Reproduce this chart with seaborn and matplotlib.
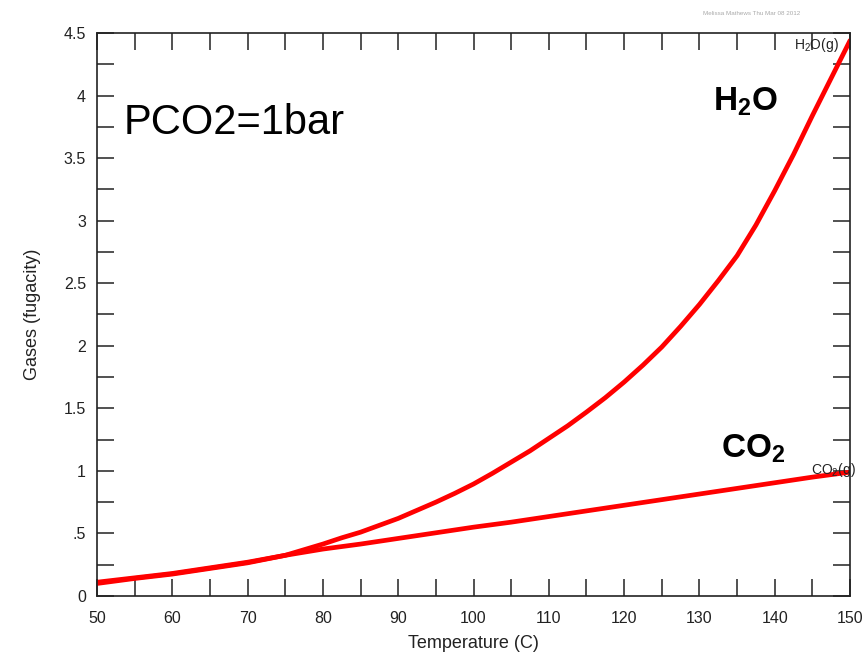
import matplotlib.pyplot as plt
import matplotlib as mpl
from matplotlib.ticker import MultipleLocator, FuncFormatter
import seaborn as sns
import pandas as pd

# values (temperature in C, fugacity)
h2o_temp = [50, 55, 60, 65, 70, 75, 77.5, 80, 82.5, 85, 87.5, 90, 92.5, 95, 97.5,
            100, 102.5, 105, 107.5, 110, 112.5, 115, 117.5, 120, 122.5, 125,
            127.5, 130, 132.5, 135, 137.5, 140, 142.5, 145, 147.5, 150]
h2o_fug = [0.10, 0.14, 0.175, 0.22, 0.265, 0.325, 0.37, 0.415, 0.465, 0.51, 0.565,
           0.62, 0.685, 0.75, 0.82, 0.895, 0.98, 1.07, 1.16, 1.26, 1.36, 1.47,
           1.585, 1.71, 1.845, 1.99, 2.155, 2.33, 2.52, 2.72, 2.965, 3.24, 3.53,
           3.84, 4.14, 4.44]

co2_temp = [50, 55, 60, 65, 70, 75, 80, 85, 90, 95, 100,
            105, 110, 115, 120, 125, 130, 135, 140, 145, 150]
co2_fug = [0.11, 0.145, 0.18, 0.225, 0.27, 0.325, 0.375, 0.415, 0.46, 0.505, 0.55,
           0.59, 0.635, 0.68, 0.725, 0.77, 0.815, 0.86, 0.905, 0.95, 0.99]

x_ticks = [50, 60, 70, 80, 90, 100, 110, 120, 130, 140, 150]
y_ticks = [0, 0.5, 1, 1.5, 2, 2.5, 3, 3.5, 4, 4.5]

sns.set_style("ticks")
plt.rcParams['font.family'] = ['Liberation Sans', 'DejaVu Sans']
mpl.rcParams.update({'mathtext.fontset': 'custom',
                     'mathtext.rm': 'Liberation Sans',
                     'mathtext.bf': 'Liberation Sans:bold'})

h2o = pd.DataFrame({'T': h2o_temp, 'fug': h2o_fug})
co2 = pd.DataFrame({'T': co2_temp, 'fug': co2_fug})

fig = plt.figure(figsize=(8.63, 6.6), dpi=100)
ax = fig.add_axes([0.1124, 0.097, 0.8726, 0.853])

sns.lineplot(data=h2o, x='T', y='fug', color='#ff0000', linewidth=3.4, ax=ax)
sns.lineplot(data=co2, x='T', y='fug', color='#ff0000', linewidth=3.4, ax=ax)

ax.set_xlim(50, 150)
ax.set_ylim(0, 4.5)
ax.set_xticks(x_ticks)
ax.set_yticks(y_ticks)
ax.xaxis.set_minor_locator(MultipleLocator(5))
ax.yaxis.set_minor_locator(MultipleLocator(0.25))

def fmt_y(v, pos):
    s = ('%g' % v)
    if s.startswith('0.'):
        s = s[1:]
    return s
ax.yaxis.set_major_formatter(FuncFormatter(fmt_y))

for s in ax.spines.values():
    s.set_linewidth(1.2)
    s.set_color('#222222')
ax.tick_params(which='both', direction='in', length=12, width=1.1,
               top=True, right=True, color='#222222')
ax.tick_params(which='major', labelsize=11.5, labelcolor='#222222')
ax.tick_params(axis='x', which='major', pad=11)
ax.tick_params(axis='y', which='major', pad=8)

ax.set_xlabel('Temperature (C)', fontsize=13, color='#222222', labelpad=6)
ax.set_ylabel('Gases (fugacity)', fontsize=13, color='#222222', labelpad=16)

ax.text(0.035, 0.82, 'PCO2=1bar', transform=ax.transAxes, fontsize=30,
        color='black')
ax.text(0.818, 0.862, r'$\mathbf{H_2O}$', transform=ax.transAxes,
        fontsize=24, color='black')
ax.text(0.829, 0.245, r'$\mathbf{CO_2}$', transform=ax.transAxes,
        fontsize=24, color='black')
ax.text(0.948, 0.217, r'$\mathrm{CO_2(g)}$', transform=ax.transAxes,
        fontsize=10, color='#222222')
ax.text(0.925, 0.972, r'$\mathrm{H_2O(g)}$', transform=ax.transAxes,
        fontsize=10, color='#222222')
fig.text(0.815, 0.977, 'Melissa Mathews Thu Mar 08 2012', fontsize=4.5,
         color='#aaaaaa')

plt.savefig('out.png', dpi=100)
